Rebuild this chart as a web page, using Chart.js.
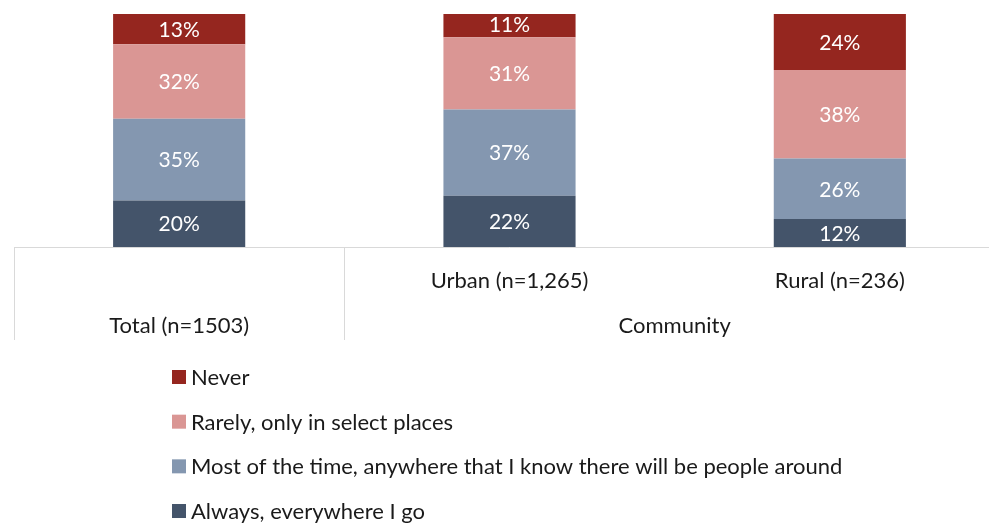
<!DOCTYPE html>
<html>
<head>
<meta charset="utf-8">
<script src="https://cdn.jsdelivr.net/npm/chart.js@4"></script>
<style>
  html, body { margin: 0; padding: 0; background: #fff; overflow: hidden; }
  #wrap { width: 1020px; height: 523px; }
</style>
</head>
<body>
<div id="wrap"><canvas id="myChart" width="1020" height="523"></canvas></div>
<script>
// categories along the axis, plus the group label spanning the last two
var categories = ["Total (n=1503)", "Urban (n=1,265)", "Rural (n=236)"];
var groupLabel = "Community";

// series, bottom of the stack first
var seriesNames = [
  "Always, everywhere I go",
  "Most of the time, anywhere that I know there will be people around",
  "Rarely, only in select places",
  "Never"
];
var always   = [20, 22, 12];
var mostTime = [35, 37, 26];
var rarely   = [32, 31, 38];
var never    = [13, 11, 24];
var seriesColors = ["#44546A", "#8497B0", "#DA9694", "#95261F"];

var FONT = "Lato, 'Open Sans', sans-serif";

// white % labels in the middle of each segment
var segmentLabels = {
  id: "segmentLabels",
  afterDatasetsDraw: function(chart) {
    var ctx = chart.ctx;
    ctx.save();
    ctx.fillStyle = "#ffffff";
    ctx.font = "21px " + FONT;
    ctx.textAlign = "center";
    ctx.textBaseline = "middle";
    chart.data.datasets.forEach(function(ds, i) {
      chart.getDatasetMeta(i).data.forEach(function(bar, j) {
        ctx.fillText(ds.data[j] + "%", bar.x, (bar.y + bar.base) / 2 + 1);
      });
    });
    ctx.restore();
  }
};

// two-level category axis and the vertical legend underneath
var axisAndLegend = {
  id: "axisAndLegend",
  afterDraw: function(chart) {
    var ctx = chart.ctx, area = chart.chartArea, xs = chart.scales.x;
    var bottom = area.bottom;
    var split = (xs.getPixelForValue(0) + xs.getPixelForValue(1)) / 2;
    ctx.save();
    ctx.strokeStyle = "#d9d9d9";
    ctx.lineWidth = 1;
    ctx.beginPath();
    ctx.moveTo(area.left, bottom + 0.5);
    ctx.lineTo(area.right, bottom + 0.5);
    [area.left, split, area.right].forEach(function(x) {
      x = Math.round(x) + 0.5;
      ctx.moveTo(x, bottom);
      ctx.lineTo(x, bottom + 93);
    });
    ctx.stroke();

    ctx.fillStyle = "#1a1a1a";
    ctx.font = "22px " + FONT;
    ctx.textAlign = "center";
    ctx.textBaseline = "middle";
    ctx.fillText(categories[0], xs.getPixelForValue(0), bottom + 79);
    ctx.fillText(categories[1], xs.getPixelForValue(1), bottom + 34);
    ctx.fillText(categories[2], xs.getPixelForValue(2), bottom + 34);
    ctx.fillText(groupLabel, (split + area.right) / 2, bottom + 79);

    ctx.textAlign = "left";
    for (var k = 0; k < seriesNames.length; k++) {
      var idx = seriesNames.length - 1 - k;
      var rowY = 377 + k * 44.67;
      ctx.fillStyle = seriesColors[idx];
      ctx.fillRect(172, rowY - 7, 14, 14);
      ctx.fillStyle = "#1a1a1a";
      ctx.fillText(seriesNames[idx], 191, rowY + 1);
    }
    ctx.restore();
  }
};

var seriesData = [always, mostTime, rarely, never];

new Chart("myChart", {
  type: "bar",
  data: {
    labels: categories,
    datasets: seriesData.map(function(values, i) {
      return {
        label: seriesNames[i],
        data: values,
        backgroundColor: seriesColors[i],
        borderWidth: 0,
        categoryPercentage: 1,
        barPercentage: 0.4
      };
    })
  },
  options: {
    responsive: false,
    animation: false,
    layout: { padding: { left: 14, right: 15, top: 14, bottom: 276 } },
    plugins: { legend: { display: false }, tooltip: { enabled: false } },
    scales: {
      x: { stacked: true, display: false },
      y: { stacked: true, display: false, min: 0, max: 100 }
    }
  },
  plugins: [segmentLabels, axisAndLegend]
});
</script>
</body>
</html>
